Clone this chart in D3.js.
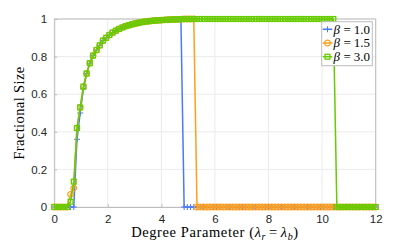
<!DOCTYPE html>
<html>
<head>
<meta charset="utf-8">
<script src="https://cdn.jsdelivr.net/npm/d3@7"></script>
<style>
  html, body { margin: 0; padding: 0; background: #fff; }
  svg { display: block; }
</style>
</head>
<body>
<div id="chart"></div>
<script>
// Degree parameter samples (lambda_r = lambda_b), 100 points over [0, 12]
const degreeParam = [
  0, 0.12, 0.24, 0.36, 0.48, 0.61, 0.73, 0.85, 0.97, 1.09,
  1.21, 1.33, 1.45, 1.58, 1.70, 1.82, 1.94, 2.06, 2.18, 2.30,
  2.42, 2.55, 2.67, 2.79, 2.91, 3.03, 3.15, 3.27, 3.39, 3.52,
  3.64, 3.76, 3.88, 4.00, 4.12, 4.24, 4.36, 4.48, 4.61, 4.73,
  4.85, 4.97, 5.09, 5.21, 5.33, 5.45, 5.58, 5.70, 5.82, 5.94,
  6.06, 6.18, 6.30, 6.42, 6.55, 6.67, 6.79, 6.91, 7.03, 7.15,
  7.27, 7.39, 7.52, 7.64, 7.76, 7.88, 8.00, 8.12, 8.24, 8.36,
  8.48, 8.61, 8.73, 8.85, 8.97, 9.09, 9.21, 9.33, 9.45, 9.58,
  9.70, 9.82, 9.94, 10.06, 10.18, 10.30, 10.42, 10.55, 10.67, 10.79,
  10.91, 11.03, 11.15, 11.27, 11.39, 11.52, 11.64, 11.76, 11.88, 12.00
];

// Fractional size, beta = 1.0
const sizeBeta10 = [
  0, 0, 0, 0, 0, 0, 0, 0.36, 0.50, 0.63,
  0.71, 0.765, 0.805, 0.835, 0.86, 0.885, 0.90, 0.915, 0.928, 0.938,
  0.947, 0.955, 0.962, 0.967, 0.972, 0.976, 0.980, 0.983, 0.986, 0.988,
  0.990, 0.992, 0.993, 0.994, 0.995, 0.996, 0.997, 0.998, 0.998, 0.999,
  0, 0, 0, 0, 0, 0, 0, 0, 0, 0,
  0, 0, 0, 0, 0, 0, 0, 0, 0, 0,
  0, 0, 0, 0, 0, 0, 0, 0, 0, 0,
  0, 0, 0, 0, 0, 0, 0, 0, 0, 0,
  0, 0, 0, 0, 0, 0, 0, 0, 0, 0,
  0, 0, 0, 0, 0, 0, 0, 0, 0, 0
];

// Fractional size, beta = 1.5
const sizeBeta15 = [
  0, 0, 0, 0, 0, 0.067, 0.10, 0.42, 0.53, 0.64,
  0.71, 0.765, 0.805, 0.835, 0.86, 0.885, 0.90, 0.915, 0.928, 0.938,
  0.947, 0.955, 0.962, 0.967, 0.972, 0.976, 0.980, 0.983, 0.986, 0.988,
  0.990, 0.992, 0.993, 0.994, 0.995, 0.996, 0.997, 0.998, 0.998, 0.999,
  1, 1, 1, 1, 0, 0, 0, 0, 0, 0,
  0, 0, 0, 0, 0, 0, 0, 0, 0, 0,
  0, 0, 0, 0, 0, 0, 0, 0, 0, 0,
  0, 0, 0, 0, 0, 0, 0, 0, 0, 0,
  0, 0, 0, 0, 0, 0, 0, 0, 0, 0,
  0, 0, 0, 0, 0, 0, 0, 0, 0, 0
];

// Fractional size, beta = 3.0
const sizeBeta30 = [
  0, 0, 0, 0, 0, 0.028, 0.135, 0.42, 0.53, 0.64,
  0.71, 0.765, 0.805, 0.835, 0.86, 0.885, 0.90, 0.915, 0.928, 0.938,
  0.947, 0.955, 0.962, 0.967, 0.972, 0.976, 0.980, 0.983, 0.986, 0.988,
  0.990, 0.992, 0.993, 0.994, 0.995, 0.996, 0.997, 0.998, 0.998, 0.999,
  1, 1, 1, 1, 1, 1, 1, 1, 1, 1,
  1, 1, 1, 1, 1, 1, 1, 1, 1, 1,
  1, 1, 1, 1, 1, 1, 1, 1, 1, 1,
  1, 1, 1, 1, 1, 1, 1, 1, 1, 1,
  1, 1, 1, 1, 1, 1, 1, 0, 0, 0,
  0, 0, 0, 0, 0, 0, 0, 0, 0, 0
];

const betaLabels = ['1.0', '1.5', '3.0'];
const xTickValues = [0, 2, 4, 6, 8, 10, 12];
const yTickValues = [0, 0.2, 0.4, 0.6, 0.8, 1];

const width = 415,
  height = 243,
  margin = {left: 54.2, right: 39.3, top: 19, bottom: 36},
  plotW = width - margin.left - margin.right,
  plotH = height - margin.top - margin.bottom,
  axisGray = '#bcbcbc',
  gridGray = '#ebebeb',
  sansFont = '"Liberation Sans", Arial, sans-serif',
  serifFont = '"Liberation Serif", "Times New Roman", serif';

const series = [
  {values: sizeBeta10, color: '#4a78ff', marker: 'plus'},
  {values: sizeBeta15, color: '#ff9f1a', marker: 'circle'},
  {values: sizeBeta30, color: '#66cc00', marker: 'square'}
];

const x = d3.scaleLinear().domain([0, 12]).range([0, plotW]),
  y = d3.scaleLinear().domain([0, 1]).range([plotH, 0]);

const svg = d3.select('#chart').append('svg')
  .attr('width', width)
  .attr('height', height);

const g = svg.append('g')
  .attr('transform', 'translate(' + margin.left + ',' + margin.top + ')');

// grid lines
g.append('g').attr('class', 'grid')
  .selectAll('line.gx')
  .data(xTickValues)
  .enter().append('line')
  .attr('x1', d => x(d)).attr('x2', d => x(d))
  .attr('y1', 0).attr('y2', plotH)
  .attr('stroke', gridGray);

g.select('.grid')
  .selectAll('line.gy')
  .data(yTickValues)
  .enter().append('line')
  .attr('x1', 0).attr('x2', plotW)
  .attr('y1', d => y(d)).attr('y2', d => y(d))
  .attr('stroke', gridGray);

// axes (matlab style box, inward ticks)
const xAxis = d3.axisBottom(x).tickValues(xTickValues).tickSize(-3)
    .tickPadding(8).tickFormat(d3.format('d')),
  yAxis = d3.axisLeft(y).tickValues(yTickValues).tickSize(-3)
    .tickPadding(7).tickFormat(d => d === 0 || d === 1 ? String(d) : d.toFixed(1));

const xg = g.append('g')
  .attr('transform', 'translate(0,' + plotH + ')')
  .call(xAxis);
const yg = g.append('g').call(yAxis);

[xg, yg].forEach(a => {
  a.selectAll('.domain').attr('stroke', axisGray);
  a.selectAll('.tick line').attr('stroke', axisGray);
  a.selectAll('.tick text')
    .attr('fill', '#262626')
    .style('font-family', sansFont)
    .style('font-size', '11.5px');
});

// top and right box edges
g.append('line').attr('x1', 0).attr('x2', plotW).attr('y1', 0).attr('y2', 0)
  .attr('stroke', axisGray);
g.append('line').attr('x1', plotW).attr('x2', plotW).attr('y1', 0).attr('y2', plotH)
  .attr('stroke', axisGray);

/**
 * Draw a marker symbol at the origin of sel
 */
function drawMarker(sel, type, color) {
  if (type === 'plus') {
    sel.append('path')
      .attr('d', 'M-3,0H3M0,-3V3')
      .attr('stroke', color).attr('stroke-width', 1).attr('fill', 'none');
  } else if (type === 'circle') {
    sel.append('circle').attr('r', 2.8)
      .attr('stroke', color).attr('stroke-width', 1.2).attr('fill', 'none');
  } else {
    sel.append('rect').attr('x', -2.4).attr('y', -2.4)
      .attr('width', 4.8).attr('height', 4.8)
      .attr('stroke', color).attr('stroke-width', 1.3).attr('fill', 'none');
  }
}

const line = d3.line()
  .x((d, i) => x(degreeParam[i]))
  .y(d => y(d));

series.forEach(s => {
  const sg = g.append('g').attr('class', 'series');
  sg.append('path')
    .datum(s.values)
    .attr('d', line)
    .attr('fill', 'none')
    .attr('stroke', s.color)
    .attr('stroke-width', 1.5);

  sg.selectAll('g.pt')
    .data(s.values)
    .enter().append('g')
    .attr('class', 'pt')
    .attr('transform', (d, i) => 'translate(' + x(degreeParam[i]) + ',' + y(d) + ')')
    .each(function() { drawMarker(d3.select(this), s.marker, s.color); });
});

// legend
const legend = svg.append('g').attr('transform', 'translate(321.7,21.7)');
legend.append('rect')
  .attr('width', 50.6).attr('height', 44)
  .attr('fill', '#fff').attr('stroke', axisGray);

series.forEach((s, i) => {
  const ly = 7.6 + i * 13.7,
    item = legend.append('g').attr('transform', 'translate(0,' + ly + ')');
  item.append('line').attr('x1', 1).attr('x2', 10.6)
    .attr('stroke', s.color).attr('stroke-width', 1.5);
  drawMarker(item.append('g').attr('transform', 'translate(5.8,0)'), s.marker, s.color);
  const t = item.append('text')
    .attr('x', 11.8).attr('y', 4.3)
    .style('font-family', serifFont)
    .style('font-size', '13px')
    .attr('fill', '#000');
  t.append('tspan').style('font-style', 'italic').text('β');
  t.append('tspan').attr('dx', 3.5).text('=');
  t.append('tspan').attr('dx', 3).text(betaLabels[i]);
});

// axis labels
const xl = svg.append('text')
  .attr('x', margin.left + plotW / 2)
  .attr('y', 237)
  .attr('text-anchor', 'middle')
  .style('font-family', serifFont)
  .style('font-size', '14.5px')
  .style('letter-spacing', '0.6px')
  .attr('fill', '#000');
xl.append('tspan').text('Degree Parameter (');
xl.append('tspan').style('font-style', 'italic').text('λ');
xl.append('tspan').style('font-style', 'italic').style('font-size', '10px')
  .attr('dy', 3).text('r');
xl.append('tspan').attr('dy', -3).attr('dx', 3).text('=');
xl.append('tspan').attr('dx', 3).style('font-style', 'italic').text('λ');
xl.append('tspan').style('font-style', 'italic').style('font-size', '10px')
  .attr('dy', 3).text('b');
xl.append('tspan').attr('dy', -3).text(')');

svg.append('text')
  .attr('transform', 'translate(24,' + (margin.top + plotH / 2) + ') rotate(-90)')
  .attr('text-anchor', 'middle')
  .style('font-family', serifFont)
  .style('font-size', '14.5px')
  .style('letter-spacing', '0.4px')
  .attr('fill', '#000')
  .text('Fractional Size');
</script>
</body>
</html>
